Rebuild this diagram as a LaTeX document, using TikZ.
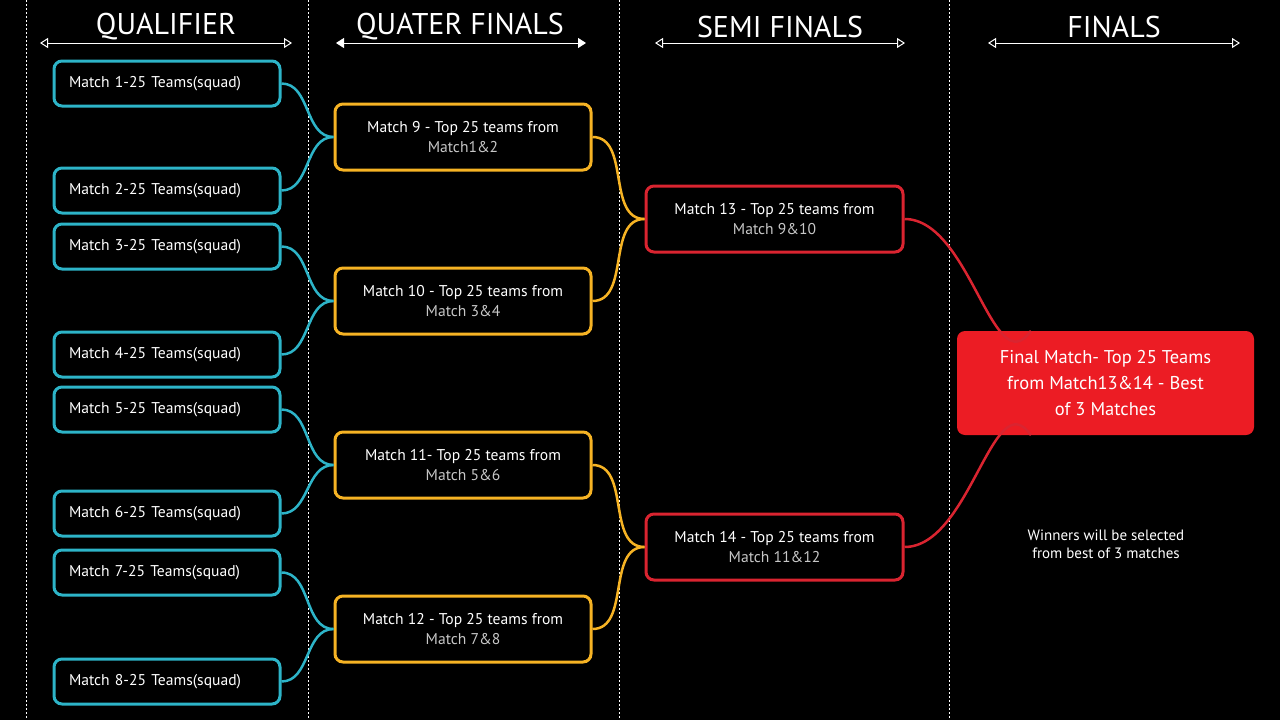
\documentclass[tikz,border=0pt]{standalone}
\usepackage{fontspec}
\setmainfont{PT Sans}
\usetikzlibrary{arrows.meta}
\definecolor{qcyan}{HTML}{2DB4C8}
\definecolor{qorange}{HTML}{F6B324}
\definecolor{sred}{HTML}{DA2430}
\definecolor{fred}{HTML}{EC1C24}
\newcommand{\subline}[1]{{\color{white!78!black}#1}}

\begin{document}
\begin{tikzpicture}[x=1pt, y=-1pt,
  qual/.style={draw=qcyan, line width=3pt, rounded corners=8pt, minimum height=45pt,
    text width=196pt, inner xsep=15pt, align=left, text=white, font=\fontsize{15.6}{18}\selectfont},
  quarter/.style={draw=qorange, line width=3pt, rounded corners=8pt, minimum height=66pt,
    minimum width=256pt, align=center, text=white, font=\fontsize{15.6}{20}\selectfont},
  semi/.style={quarter, draw=sred, minimum width=257pt},
  final/.style={fill=fred, rounded corners=8pt, minimum height=104pt, minimum width=297pt,
    align=center, text=white, font=\fontsize{18.5}{26}\selectfont},
  header/.style={text=white, font=\fontsize{30}{32}\selectfont},
  divider/.style={white, line width=0.8pt, dash pattern=on 2pt off 2pt},
  span/.style={white, line width=1pt, {Triangle[open, length=8pt, width=10pt]}-{Triangle[open, length=8pt, width=10pt]}},
  spanfill/.style={white, line width=1pt, {Triangle[length=8pt, width=10pt]}-{Triangle[length=8pt, width=10pt]}},
  qlink/.style={qcyan, line width=2.5pt},
  olink/.style={qorange, line width=2.5pt},
  rlink/.style={sred, line width=2.5pt}]

\fill[black] (0,0) rectangle (1280,720);
\useasboundingbox (0,0) rectangle (1280,720);

% column dividers
\draw[divider] (26,0) -- (26,720);
\draw[divider] (308,0) -- (308,720);
\draw[divider] (619,0) -- (619,720);
\draw[divider] (949,0) -- (949,720);

% headers
\node[header] (hq) at (166,27) {QUALIFIER};
\node[header] (hqf) at (460,27) {QUATER FINALS};
\node[header] (hsf) at (780,27) {SEMI FINALS};
\node[header] (hf) at (1114,27) {FINALS};
\draw[span] (40,43) -- (292,43);
\draw[spanfill] (336,43) -- (586,43);
\draw[span] (655,43) -- (905,43);
\draw[span] (988,43) -- (1240,43);

% qualifier
\node[qual] (q1) at (167,83.5) {Match 1-25 Teams(squad)};
\node[qual] (q2) at (167,190.5) {Match 2-25 Teams(squad)};
\node[qual] (q3) at (167,246.5) {Match 3-25 Teams(squad)};
\node[qual] (q4) at (167,354.5) {Match 4-25 Teams(squad)};
\node[qual] (q5) at (167,409.5) {Match 5-25 Teams(squad)};
\node[qual] (q6) at (167,513.5) {Match 6-25 Teams(squad)};
\node[qual] (q7) at (167,572.5) {Match 7-25 Teams(squad)};
\node[qual] (q8) at (167,681.5) {Match 8-25 Teams(squad)};

% quarter finals
\node[quarter] (m9) at (463,137) {Match 9 - Top 25 teams from\\\subline{Match1\&2}};
\node[quarter] (m10) at (463,301) {Match 10 - Top 25 teams from\\\subline{Match 3\&4}};
\node[quarter] (m11) at (463,465) {Match 11- Top 25 teams from\\\subline{Match 5\&6}};
\node[quarter] (m12) at (463,629) {Match 12 - Top 25 teams from\\\subline{Match 7\&8}};

% semi finals
\node[semi] (m13) at (774.5,219) {Match 13 - Top 25 teams from\\\subline{Match 9\&10}};
\node[semi] (m14) at (774.5,547) {Match 14 - Top 25 teams from\\\subline{Match 11\&12}};

% links
\draw[qlink] (q1.east) to[out=0,in=180] (m9.west);
\draw[qlink] (q2.east) to[out=0,in=180] (m9.west);
\draw[qlink] (q3.east) to[out=0,in=180] (m10.west);
\draw[qlink] (q4.east) to[out=0,in=180] (m10.west);
\draw[qlink] (q5.east) to[out=0,in=180] (m11.west);
\draw[qlink] (q6.east) to[out=0,in=180] (m11.west);
\draw[qlink] (q7.east) to[out=0,in=180] (m12.west);
\draw[qlink] (q8.east) to[out=0,in=180] (m12.west);
\draw[olink] (m9.east) to[out=0,in=180] (m13.west);
\draw[olink] (m10.east) to[out=0,in=180] (m13.west);
\draw[olink] (m11.east) to[out=0,in=180] (m14.west);
\draw[olink] (m12.east) to[out=0,in=180] (m14.west);

% finals
\node[final] (fin) at (1105.5,383) {Final Match- Top 25 Teams\\from Match13\&14 - Best\\of 3 Matches};
\draw[rlink] (m13.east) to[out=0,in=-125] (fin.145);
\draw[rlink] (m14.east) to[out=0,in=125] (fin.-145);
\node[text=white, align=center, font=\fontsize{15}{18}\selectfont] (note) at (1106,544)
  {Winners will be selected\\from best of 3 matches};
\end{tikzpicture}
\end{document}
